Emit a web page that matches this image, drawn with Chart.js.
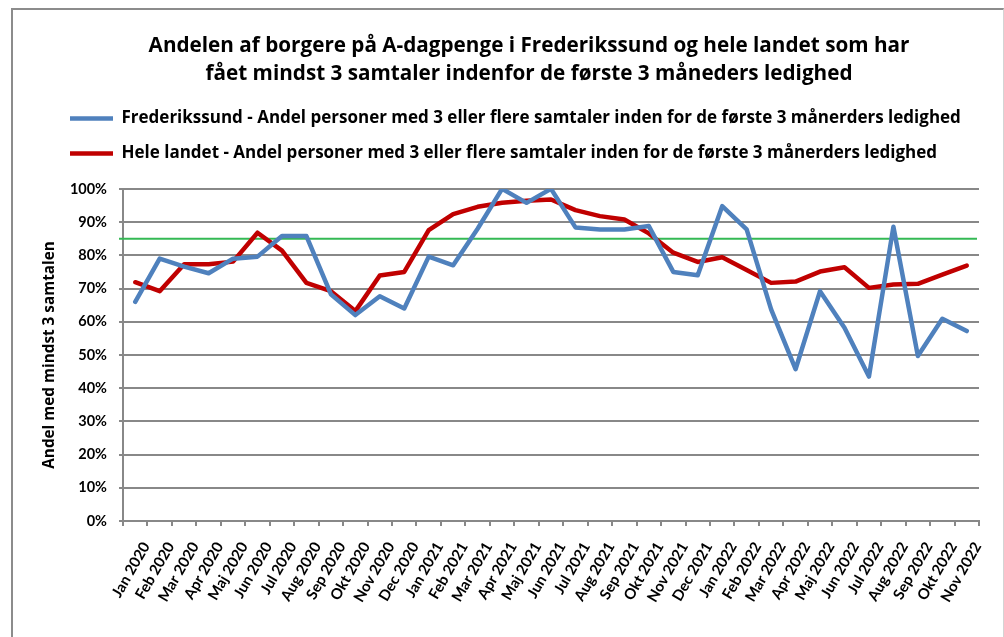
<!DOCTYPE html>
<html lang="da">
<head>
<meta charset="utf-8">
<title>Andelen af borgere på A-dagpenge</title>
<script src="https://cdn.jsdelivr.net/npm/chart.js"></script>
<style>
  html, body { margin: 0; padding: 0; background: #fff; overflow: hidden; }
  #ramme {
    position: absolute; left: 11px; top: 8px;
    width: 990px; height: 640px;
    border-left: 2px solid #8c8c8c;
    border-top: 2px solid #8c8c8c;
    border-right: 1px solid #d4d4d4;
  }
  canvas { display: block; }
</style>
</head>
<body>
<div id="ramme"><canvas id="andelChart" width="989" height="630"></canvas></div>
<script>
// --- data ---
const maaneder = [
  'Jan 2020', 'Feb 2020', 'Mar 2020', 'Apr 2020', 'Maj 2020', 'Jun 2020',
  'Jul 2020', 'Aug 2020', 'Sep 2020', 'Okt 2020', 'Nov 2020', 'Dec 2020',
  'Jan 2021', 'Feb 2021', 'Mar 2021', 'Apr 2021', 'Maj 2021', 'Jun 2021',
  'Jul 2021', 'Aug 2021', 'Sep 2021', 'Okt 2021', 'Nov 2021', 'Dec 2021',
  'Jan 2022', 'Feb 2022', 'Mar 2022', 'Apr 2022', 'Maj 2022', 'Jun 2022',
  'Jul 2022', 'Aug 2022', 'Sep 2022', 'Okt 2022', 'Nov 2022'
];

// Frederikssund (%)
const frederikssund = [
  66, 79, 76.6, 74.6, 79, 79.6, 85.8, 85.8, 68.3, 62, 67.7, 64,
  79.6, 77, 88, 100, 95.8, 100, 88.4, 87.8, 87.8, 88.8, 75, 74,
  94.8, 87.8, 63.7, 45.7, 69.2, 58.2, 43.5, 88.6, 49.7, 60.9, 57.2
];

// Hele landet (%)
const heleLandet = [
  71.9, 69.2, 77.3, 77.3, 78.1, 86.8, 81.4, 71.7, 69.2, 63.2, 73.9, 75,
  87.6, 92.4, 94.6, 95.8, 96.4, 96.8, 93.6, 91.8, 90.8, 86.6, 80.8, 78,
  79.4, 75.6, 71.7, 72.1, 75.1, 76.4, 70.2, 71.2, 71.4, 74.2, 76.9
];

const maal = 85; // grøn mållinje
const yMin = 0, yMax = 100, yStep = 10;

const titelLinjer = [
  'Andelen af borgere på A-dagpenge i Frederikssund og hele landet som har',
  'fået mindst 3 samtaler indenfor de første 3 måneders ledighed'
];
const serieNavne = [
  'Frederikssund - Andel personer med 3 eller flere samtaler inden for de første 3 månerders ledighed',
  'Hele landet - Andel personer med 3 eller flere samtaler inden for de første 3 månerders ledighed'
];
const yTitel = 'Andel med mindst 3 samtalen';

const FONT = '"Open Sans", Lato, sans-serif';
const FONT_TAL = 'Lato, "Open Sans", sans-serif';

// --- plugins ---
// grøn vandret linje ved målet, tegnet under serierne
const maalLinje = {
  id: 'maalLinje',
  beforeDatasetsDraw(chart) {
    const { ctx, chartArea, scales } = chart;
    const y = scales.y.getPixelForValue(maal);
    ctx.save();
    ctx.strokeStyle = '#34b954';
    ctx.lineWidth = 2;
    ctx.beginPath();
    ctx.moveTo(chartArea.left - 4, y);
    ctx.lineTo(chartArea.right - 2, y);
    ctx.stroke();
    ctx.restore();
  }
};

// flytter titel og signaturforklaring lidt, som i Excel-figuren
const flytBokse = {
  id: 'flytBokse',
  afterLayout(chart) {
    chart.legend.left += 15;
    chart.legend.top -= 17;
    chart.legend.bottom -= 17;
    chart.titleBlock.left += 21;
    chart.titleBlock.right += 21;
  }
};

// --- graf ---
const ctx = document.getElementById('andelChart').getContext('2d');
const andelChart = new Chart(ctx, {
  type: 'line',
  data: {
    labels: maaneder,
    datasets: [{
      label: serieNavne[0],
      data: frederikssund,
      borderColor: '#4f81bd',
      backgroundColor: '#4f81bd',
      borderWidth: 4.5,
      borderCapStyle: 'round',
      borderJoinStyle: 'round',
      pointRadius: 0,
      tension: 0
    }, {
      label: serieNavne[1],
      data: heleLandet,
      borderColor: '#c00000',
      backgroundColor: '#c00000',
      borderWidth: 4.5,
      borderCapStyle: 'round',
      borderJoinStyle: 'round',
      pointRadius: 0,
      tension: 0
    }]
  },
  options: {
    responsive: false,
    animation: false,
    layout: { padding: { left: 24, right: 23, top: 0, bottom: 0 } },
    plugins: {
      title: {
        display: true,
        text: titelLinjer,
        color: '#000',
        font: { family: FONT, size: 20.7, weight: 'bold', lineHeight: 1.35 },
        padding: { top: 22, bottom: 21 }
      },
      legend: {
        position: 'top',
        align: 'start',
        labels: {
          usePointStyle: true,
          pointStyle: 'line',
          pointStyleWidth: 43,
          boxHeight: 16,
          padding: 18,
          color: '#000',
          font: { family: FONT, size: 17, weight: 'bold' }
        }
      },
      tooltip: { enabled: false }
    },
    scales: {
      x: {
        offset: true,
        grid: { offset: true, drawOnChartArea: false, tickLength: 5, color: '#888', lineWidth: 2 },
        border: { color: '#888', width: 2 },
        ticks: {
          autoSkip: false,
          minRotation: 60,
          maxRotation: 60,
          labelOffset: 11,
          padding: 13,
          color: '#000',
          font: { family: FONT_TAL, size: 15, weight: 'bold' }
        },
        afterFit(s) { s.height = 119; }
      },
      y: {
        min: yMin,
        max: yMax,
        grid: { color: '#888', lineWidth: 2, tickLength: 4 },
        border: { color: '#888', width: 2 },
        ticks: {
          stepSize: yStep,
          padding: 12,
          color: '#000',
          font: { family: FONT_TAL, size: 14.5, weight: 'bold' },
          callback: v => v + '%'
        },
        title: {
          display: true,
          text: yTitel,
          color: '#000',
          font: { family: FONT, size: 15.3, weight: 'bold' },
          padding: { top: 3, bottom: 4 }
        },
        afterFit(s) { s.width = 86; }
      }
    }
  },
  plugins: [maalLinje, flytBokse]
});
</script>
</body>
</html>
